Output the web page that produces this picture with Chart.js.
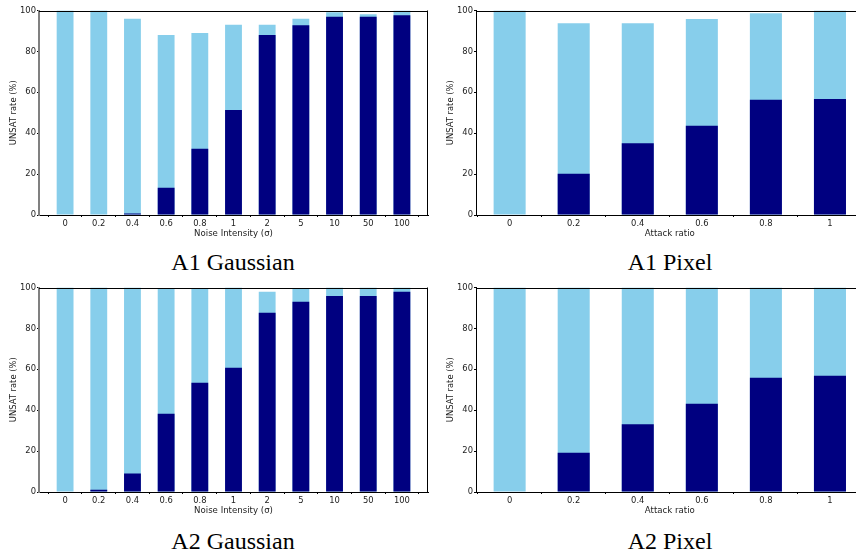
<!DOCTYPE html>
<html>
<head>
<meta charset="utf-8">
<script src="https://cdn.jsdelivr.net/npm/chart.js@4.4.0/dist/chart.umd.min.js"></script>
<style>
  html, body { margin: 0; padding: 0; background: #fff; }
  body { width: 856px; height: 554px; overflow: hidden; position: relative; }
  canvas { position: absolute; }
  .cap { position: absolute; width: 240px; text-align: center; font-family: "Liberation Serif", "DejaVu Serif", serif; font-size: 24px; line-height: 24px; color: #000; }
</style>
</head>
<body>
<canvas id="c1" width="440" height="240" style="left:0;top:0"></canvas>
<canvas id="c2" width="440" height="240" style="left:440px;top:0"></canvas>
<canvas id="c3" width="440" height="240" style="left:0;top:277px"></canvas>
<canvas id="c4" width="440" height="240" style="left:440px;top:277px"></canvas>
<div class="cap" style="left:113px;top:250px">A1 Gaussian</div>
<div class="cap" style="left:550px;top:250px">A1 Pixel</div>
<div class="cap" style="left:113px;top:529px">A2 Gaussian</div>
<div class="cap" style="left:550px;top:529px">A2 Pixel</div>
<script>
// ---- data ----
const gaussLabels = ['0', '0.2', '0.4', '0.6', '0.8', '1', '2', '5', '10', '50', '100'];
const pixelLabels = ['0', '0.2', '0.4', '0.6', '0.8', '1'];
const yTicks = [0, 20, 40, 60, 80, 100];

const a1GaussTotal = [100, 100, 96, 88, 89, 93, 93, 96, 99.2, 98.2, 100];
const a1GaussDark  = [0, 0, 0.7, 13.3, 32.4, 51.4, 88, 92.8, 96.9, 96.9, 97.7];
const a1PixelTotal = [100, 93.8, 93.8, 95.8, 98.7, 100];
const a1PixelDark  = [0, 20.2, 35.1, 43.6, 56.3, 56.7];
const a2GaussTotal = [100, 100, 100, 99.3, 99.3, 100, 97.9, 99.3, 100, 100, 100];
const a2GaussDark  = [0, 1.1, 9.0, 38.3, 53.4, 60.7, 87.6, 93.0, 95.9, 95.9, 97.9];
const a2PixelTotal = [100, 100, 100, 100, 100, 100];
const a2PixelDark  = [0, 19.2, 33.1, 43.2, 55.9, 56.8];

const xTitleGauss = 'Noise Intensity (σ)';
const xTitlePixel = 'Attack ratio';
const yTitle = 'UNSAT rate (%)';

// ---- styles ----
const LIGHT = '#87CEEB';
const DARK = '#000080';
const FONT = "'DejaVu Sans', sans-serif";

const framePlugin = {
  id: 'frame',
  afterDraw(chart, args, opts) {
    const { ctx, chartArea: a } = chart;
    ctx.save();
    ctx.strokeStyle = '#000';
    ctx.lineWidth = 1;
    ctx.beginPath();
    ctx.moveTo(a.left, Math.round(a.top) + 0.5);
    ctx.lineTo(a.right, Math.round(a.top) + 0.5);
    if (opts.right) {
      ctx.moveTo(Math.round(a.right) - 0.5, a.top);
      ctx.lineTo(Math.round(a.right) - 0.5, a.bottom);
    }
    ctx.stroke();
    ctx.restore();
  }
};

function makeChart(id, labels, total, dark, xTitle, cfg) {
  const n = labels.length;
  const margin = 0.05 * (n - 1 + 0.5) + 0.25;
  new Chart(document.getElementById(id), {
    type: 'bar',
    data: {
      datasets: [
        { data: dark.map((v, i) => ({ x: i, y: v })), backgroundColor: DARK, borderWidth: 0 },
        { data: total.map((v, i) => ({ x: i, y: v })), backgroundColor: LIGHT, borderWidth: 0 }
      ]
    },
    options: {
      responsive: false,
      devicePixelRatio: 1,
      animation: false,
      categoryPercentage: 1,
      barPercentage: 0.5,
      layout: { padding: { top: 10.5, right: cfg.padRight, left: 0, bottom: 0 } },
      plugins: { legend: { display: false }, tooltip: { enabled: false }, frame: { right: cfg.rightSpine } },
      scales: {
        x: {
          type: 'linear',
          offset: false,
          stacked: true,
          min: -margin,
          max: n - 1 + margin,
          z: 1,
          afterBuildTicks: s => { s.ticks = labels.map((_, i) => ({ value: i })); },
          afterFit: s => { s.height = 25; },
          grid: { display: true, drawOnChartArea: false, drawTicks: true, tickLength: 2, color: '#000' },
          border: { display: true, color: '#000', width: 1 },
          ticks: { callback: (v) => labels[v], color: '#222', font: { family: FONT, size: 8.4 }, padding: 2, maxRotation: 0, autoSkip: false },
          title: { display: true, text: xTitle, color: '#222', font: { family: FONT, size: 8.6 }, padding: { top: 0, bottom: 1.5 } }
        },
        y: {
          stacked: false,
          min: 0,
          max: 100,
          z: 1,
          afterBuildTicks: s => { s.ticks = yTicks.map(v => ({ value: v })); },
          afterFit: s => { s.width = cfg.yWidth; },
          grid: { display: true, drawOnChartArea: false, drawTicks: true, tickLength: 2, color: '#000' },
          border: { display: true, color: cfg.leftColor, width: cfg.leftWidth },
          ticks: { color: '#222', font: { family: FONT, size: 8.4 }, padding: 1 },
          title: { display: true, text: yTitle, color: '#222', font: { family: FONT, size: 8.4 }, padding: { top: cfg.yTitlePad, bottom: 0 } }
        }
      }
    },
    plugins: [framePlugin]
  });
}

const gaussCfg = { padRight: 12, yWidth: 39, rightSpine: true, leftColor: '#808080', leftWidth: 2, yTitlePad: 8.3 };
const pixelCfg = { padRight: 16.4, yWidth: 36, rightSpine: false, leftColor: '#000', leftWidth: 1, yTitlePad: 5.8 };

makeChart('c1', gaussLabels, a1GaussTotal, a1GaussDark, xTitleGauss, gaussCfg);
makeChart('c2', pixelLabels, a1PixelTotal, a1PixelDark, xTitlePixel, pixelCfg);
makeChart('c3', gaussLabels, a2GaussTotal, a2GaussDark, xTitleGauss, gaussCfg);
makeChart('c4', pixelLabels, a2PixelTotal, a2PixelDark, xTitlePixel, pixelCfg);
</script>
</body>
</html>
